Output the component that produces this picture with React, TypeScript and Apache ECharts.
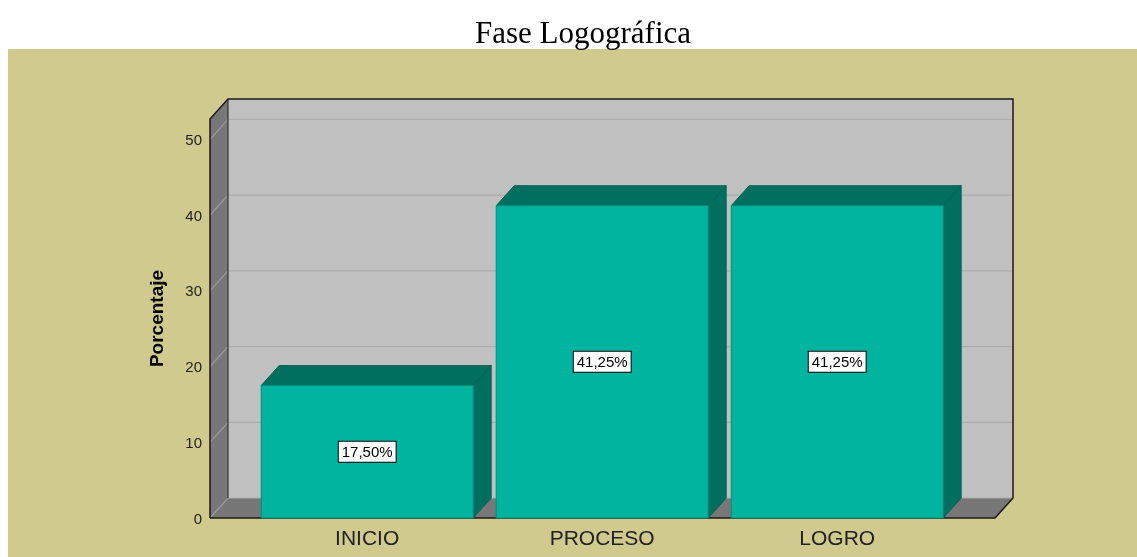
import { useEffect, useRef } from 'react';
import * as echarts from 'echarts';

const titleText = 'Fase Logográfica';
const yAxisName = 'Porcentaje';
const categories = ['INICIO', 'PROCESO', 'LOGRO'];
const percentages = [17.5, 41.25, 41.25];
const yTicks = [0, 10, 20, 30, 40, 50];

const DX = 18;
const DY = -20;
const EXT_L = 39.7;
const EXT_R = 40.3;
const BAR_RATIO = 0.902;

const fmt = (v: number) => v.toFixed(2).replace('.', ',') + '%';

export default function App() {
  const ref = useRef<HTMLDivElement>(null);
  useEffect(() => {
    const chart = echarts.init(ref.current!, null, { renderer: 'svg' });

    const walls = {
      type: 'custom',
      z: 1,
      silent: true,
      data: [[0, 0]],
      encode: { x: 0, y: 1 },
      renderItem: (params: any, api: any) => {
        const cs = params.coordSys;
        const xl = cs.x - EXT_L;
        const xr = cs.x + cs.width + EXT_R;
        const yb = api.coord([0, 0])[1];
        const yt = cs.y;
        const children: any[] = [];
        children.push({
          type: 'polygon',
          shape: { points: [[xl + DX, yt + DY], [xr + DX, yt + DY], [xr + DX, yb + DY], [xl + DX, yb + DY]] },
          style: { fill: '#c0c0c0' },
        });
        children.push({
          type: 'polygon',
          shape: { points: [[xl, yt], [xl + DX, yt + DY], [xl + DX, yb + DY], [xl, yb]] },
          style: { fill: '#777777' },
        });
        children.push({
          type: 'polygon',
          shape: { points: [[xl, yb], [xl + DX, yb + DY], [xr + DX, yb + DY], [xr, yb]] },
          style: { fill: '#777777' },
        });
        yTicks.forEach((t) => {
          const y = api.coord([0, t])[1];
          children.push({
            type: 'line',
            shape: { x1: xl + DX, y1: y + DY, x2: xr + DX, y2: y + DY },
            style: { stroke: '#acacac', lineWidth: 1.2 },
          });
          children.push({
            type: 'line',
            shape: { x1: xl, y1: y, x2: xl + DX, y2: y + DY },
            style: { stroke: '#9c9c9c', lineWidth: 1.2 },
          });
        });
        children.push({
          type: 'line',
          shape: { x1: xl + DX, y1: yt + DY, x2: xl + DX, y2: yb + DY },
          style: { stroke: '#333', lineWidth: 1.2 },
        });
        children.push({
          type: 'polyline',
          shape: {
            points: [[xl, yb], [xl, yt], [xl + DX, yt + DY], [xr + DX, yt + DY], [xr + DX, yb + DY], [xr, yb], [xl, yb]],
          },
          style: { stroke: '#1a1a1a', lineWidth: 1.5, fill: null },
        });
        return { type: 'group', children };
      },
    };

    const bars = {
      type: 'custom',
      z: 3,
      data: percentages.map((v, i) => [i, v]),
      encode: { x: 0, y: 1 },
      renderItem: (params: any, api: any) => {
        const i = api.value(0);
        const v = api.value(1);
        const [cx, ytop] = api.coord([i, v]);
        const yb = api.coord([i, 0])[1];
        const bw = api.size([1, 0])[0] * BAR_RATIO;
        const x0 = cx - bw / 2;
        const x1 = cx + bw / 2;
        return {
          type: 'group',
          children: [
            {
              type: 'polygon',
              shape: { points: [[x1, ytop], [x1 + DX, ytop + DY], [x1 + DX, yb + DY], [x1, yb]] },
              style: { fill: '#006f5f', stroke: '#006455', lineWidth: 1 },
            },
            {
              type: 'polygon',
              shape: { points: [[x0, ytop], [x0 + DX, ytop + DY], [x1 + DX, ytop + DY], [x1, ytop]] },
              style: { fill: '#006f5f', stroke: '#006455', lineWidth: 1 },
            },
            {
              type: 'rect',
              shape: { x: x0, y: ytop, width: bw, height: yb - ytop },
              style: { fill: '#00b4a0', stroke: '#00907f', lineWidth: 1 },
            },
            {
              type: 'text',
              x: cx,
              y: (ytop + yb) / 2,
              style: {
                text: fmt(v),
                fill: '#000',
                fontSize: 15,
                fontFamily: 'Liberation Sans',
                align: 'center',
                verticalAlign: 'middle',
                backgroundColor: '#fff',
                borderColor: '#000',
                borderWidth: 1,
                padding: [3, 3, 2, 3],
              },
            },
          ],
        };
      },
    };

    const option: any = {
      animation: false,
      title: {
        text: titleText,
        left: 470,
        top: 12,
        textStyle: { fontFamily: 'Liberation Serif', fontSize: 31, fontWeight: 'normal', color: '#000' },
      },
      graphic: [
        {
          type: 'rect',
          z: -10,
          silent: true,
          shape: { x: 8, y: 49, width: 1129, height: 508 },
          style: { fill: '#d0ca8f' },
        },
      ],
      grid: { left: 249.7, right: 182.3, top: 119, bottom: 39 },
      xAxis: {
        type: 'category',
        data: categories,
        axisLine: { show: false },
        axisTick: { show: false },
        splitLine: { show: false },
        axisLabel: { fontFamily: 'Liberation Sans', fontSize: 21, color: '#222', margin: 9 },
      },
      yAxis: {
        type: 'value',
        min: 0,
        max: 52.7,
        interval: 10,
        offset: 39.7,
        axisLine: { show: false },
        axisTick: { show: false },
        splitLine: { show: false },
        axisLabel: {
          fontFamily: 'Liberation Sans',
          fontSize: 15,
          color: '#222',
          margin: 8,
          formatter: (val: number) => (yTicks.includes(val) ? String(val) : ''),
        },
        name: yAxisName,
        nameLocation: 'middle',
        nameGap: 44,
        nameTextStyle: { fontFamily: 'Liberation Sans', fontSize: 19, fontWeight: 'bold', color: '#000' },
      },
      series: [walls, bars],
    };
    chart.setOption(option);
    return () => chart.dispose();
  }, []);
  return <div ref={ref} style={{ position: 'fixed', left: 0, top: 0, width: 1137, height: 557 }} />;
}
